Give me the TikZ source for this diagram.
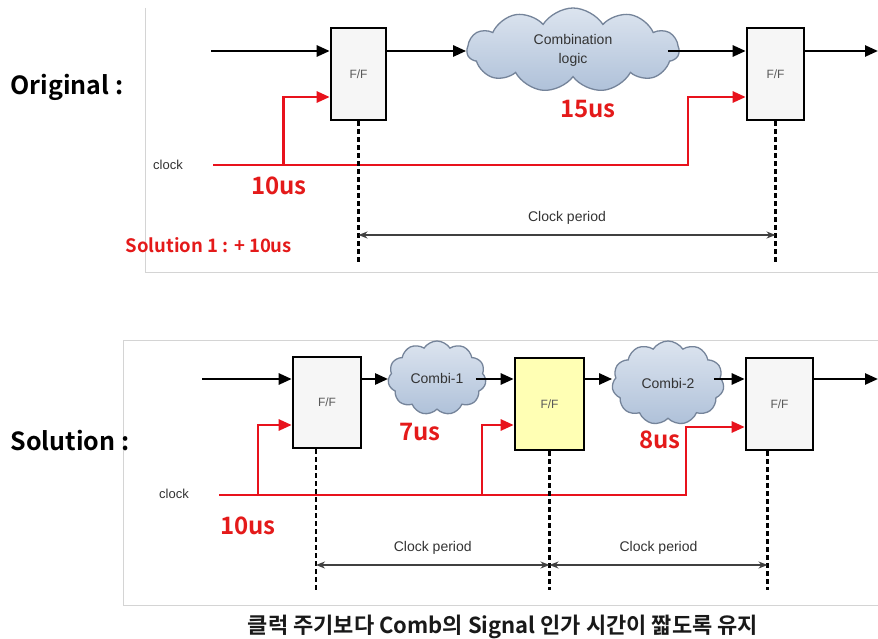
\documentclass[tikz,border=0pt]{standalone}
\usepackage{fontspec}
\setsansfont{Liberation Sans}
\newfontfamily\kr{Noto Sans CJK KR}[BoldFont={Noto Sans CJK KR Bold}]
\usetikzlibrary{shapes.symbols,arrows.meta,calc}
\definecolor{clkred}{HTML}{E8121C}
\definecolor{txtred}{HTML}{E41A1A}
\definecolor{ffgray}{HTML}{F6F6F6}
\definecolor{ffyellow}{HTML}{FFFFB4}
\definecolor{framegray}{HTML}{D4D4D4}
\definecolor{cloudtop}{HTML}{DCE4EF}
\definecolor{cloudbot}{HTML}{AFC1D9}
\definecolor{cloudedge}{HTML}{75849A}
\tikzset{
  ff/.style={draw=black, line width=2.6pt, fill=ffgray, inner sep=0pt,
    font=\sffamily\fontsize{12}{14}\selectfont, text=black!65},
  cloudn/.style={cloud, cloud puffs=11, cloud puff arc=115, cloud ignores aspect,
    top color=cloudtop, bottom color=cloudbot, draw=cloudedge, line width=1.3pt,
    inner sep=0pt, align=center, text=black!80,
    font=\sffamily\fontsize{14}{19}\selectfont},
  sig/.style={line width=2.6pt, -{Triangle[length=13pt,width=11pt]}},
  clk/.style={draw=clkred, line width=2.6pt, -{Triangle[length=13pt,width=11pt]}, color=clkred},
  vdash/.style={line width=2.4pt, dash pattern=on 4.5pt off 3.5pt},
  period/.style={draw=black!75, line width=1.4pt, {Stealth[length=9pt,width=7pt]}-{Stealth[length=9pt,width=7pt]}},
  lbl/.style={font=\sffamily\fontsize{14}{16}\selectfont, text=black!80},
  clklbl/.style={font=\sffamily\fontsize{13}{15}\selectfont, text=black!80},
  redlbl/.style={font=\kr\bfseries\fontsize{24}{27}\selectfont, text=txtred},
  biglbl/.style={font=\kr\bfseries\fontsize{25}{28}\selectfont, text=black},
  frame/.style={draw=framegray, line width=1pt}
}
\begin{document}
\begin{tikzpicture}[x=1pt,y=-1pt]
\useasboundingbox (0,0) rectangle (878,639);
\fill[white] (0,0) rectangle (878,639);

% ---------- panel frames ----------
\draw[frame] (145,8) -- (145,272) -- (878,272);
\draw[frame] (878,340) -- (123,340) -- (123,605) -- (878,605);

% ---------- side labels ----------
\node[biglbl, anchor=west] (lorig) at (7,87) {Original :};
\node[biglbl, anchor=west] (lsol) at (7,441) {Solution :};

% ================= TOP =================
\node[ff, minimum width=55pt, minimum height=92pt] (fa) at (358.5,74) {F/F};
\node[ff, minimum width=57pt, minimum height=92pt] (fb) at (775.5,74) {F/F};
\node[cloudn, minimum width=212pt, minimum height=84pt] (cl) at (573,50) {Combination\\logic};

\coordinate (ina) at (211,51);
\coordinate (outa) at (878,51);
\draw[sig] (ina) -- (fa.west |- ina);
\draw[sig] (fa.east |- ina) -- (cl.west |- ina);
\draw[sig] ([xshift=-12pt]cl.east |- ina) -- (fb.west |- ina);
\draw[sig] (fb.east |- ina) -- (outa);

% clock
\coordinate (cka) at (213,165);
\coordinate (ckaup) at (688,97);
\coordinate (cka1) at (283.5,165);
\coordinate (cka1up) at (283.5,97);
\node[clklbl] (clocka) at (168,165) {clock};
\draw[clk] (cka) -| (ckaup) -- (fb.west |- ckaup);
\draw[clk] (cka1) -- (cka1up) -- (fa.west |- cka1up);

% dashed lines + period
\coordinate (ya) at (0,262);
\coordinate (yp) at (0,235);
\draw[vdash] (fa.south) -- (fa.south |- ya);
\draw[vdash] (fb.south) -- (fb.south |- ya);
\draw[period] (fa.south |- yp) -- node[lbl, above=7pt] {Clock period} (fb.south |- yp);

\node[redlbl] (t10a) at (279,186) {10us};
\node[redlbl] (t15) at (588,109) {15us};
\node[font=\kr\bfseries\fontsize{18.5}{21}\selectfont, text=txtred, anchor=west] (sol1) at (122,245) {Solution 1 : + 10us};

% ================= BOTTOM =================
\node[ff, minimum width=68pt, minimum height=91pt] (ga) at (327,402.5) {F/F};
\node[ff, fill=ffyellow, minimum width=69pt, minimum height=92pt] (gb) at (549.5,404) {F/F};
\node[ff, minimum width=67pt, minimum height=92pt] (gc) at (779.5,404) {F/F};
\node[cloudn, minimum width=98pt, minimum height=74pt] (c1) at (437,378) {Combi-1};
\node[cloudn, minimum width=112pt, minimum height=84pt] (c2) at (668,383) {Combi-2};

\coordinate (inb) at (202,379);
\coordinate (outb) at (878,379);
\draw[sig] (inb) -- (ga.west |- inb);
\draw[sig] (ga.east |- inb) -- (c1.west |- inb);
\draw[sig] ([xshift=-10pt]c1.east |- inb) -- (gb.west |- inb);
\draw[sig] (gb.east |- inb) -- (c2.west |- inb);
\draw[sig] ([xshift=-10pt]c2.east |- inb) -- (gc.west |- inb);
\draw[sig] (gc.east |- inb) -- (outb);

% clock
\coordinate (ckb) at (219,495);
\coordinate (ckbup) at (686,427);
\coordinate (ckb1) at (258,495);
\coordinate (ckb1up) at (258,425);
\coordinate (ckb2) at (482,495);
\coordinate (ckb2up) at (482,425);
\node[clklbl] (clockb) at (174,494) {clock};
\draw[clk] (ckb) -| (ckbup) -- (gc.west |- ckbup);
\draw[clk] (ckb1) -- (ckb1up) -- (ga.west |- ckb1up);
\draw[clk] (ckb2) -- (ckb2up) -- (gb.west |- ckb2up);

% dashed lines + periods
\coordinate (yb) at (0,590);
\coordinate (ypb) at (0,565);
\coordinate (da) at ([xshift=-11pt]ga.south);
\coordinate (db) at (gb.south);
\coordinate (dc) at ([xshift=-12pt]gc.south);
\draw[vdash] (da) -- (da |- yb);
\draw[vdash] (db) -- (db |- yb);
\draw[vdash] (dc) -- (dc |- yb);
\draw[period] (da |- ypb) -- node[lbl, above=7pt] {Clock period} (db |- ypb);
\draw[period] (db |- ypb) -- node[lbl, above=7pt] {Clock period} (dc |- ypb);

\node[redlbl] (t10b) at (248,526) {10us};
\node[redlbl] (t7) at (420,432) {7us};
\node[redlbl] (t8) at (660,440) {8us};

% caption
\node[font=\kr\bfseries\fontsize{22}{25}\selectfont, text=black!90] (cap) at (503,627) {클럭 주기보다 Comb의 Signal 인가 시간이 짧도록 유지};
\end{tikzpicture}
\end{document}
